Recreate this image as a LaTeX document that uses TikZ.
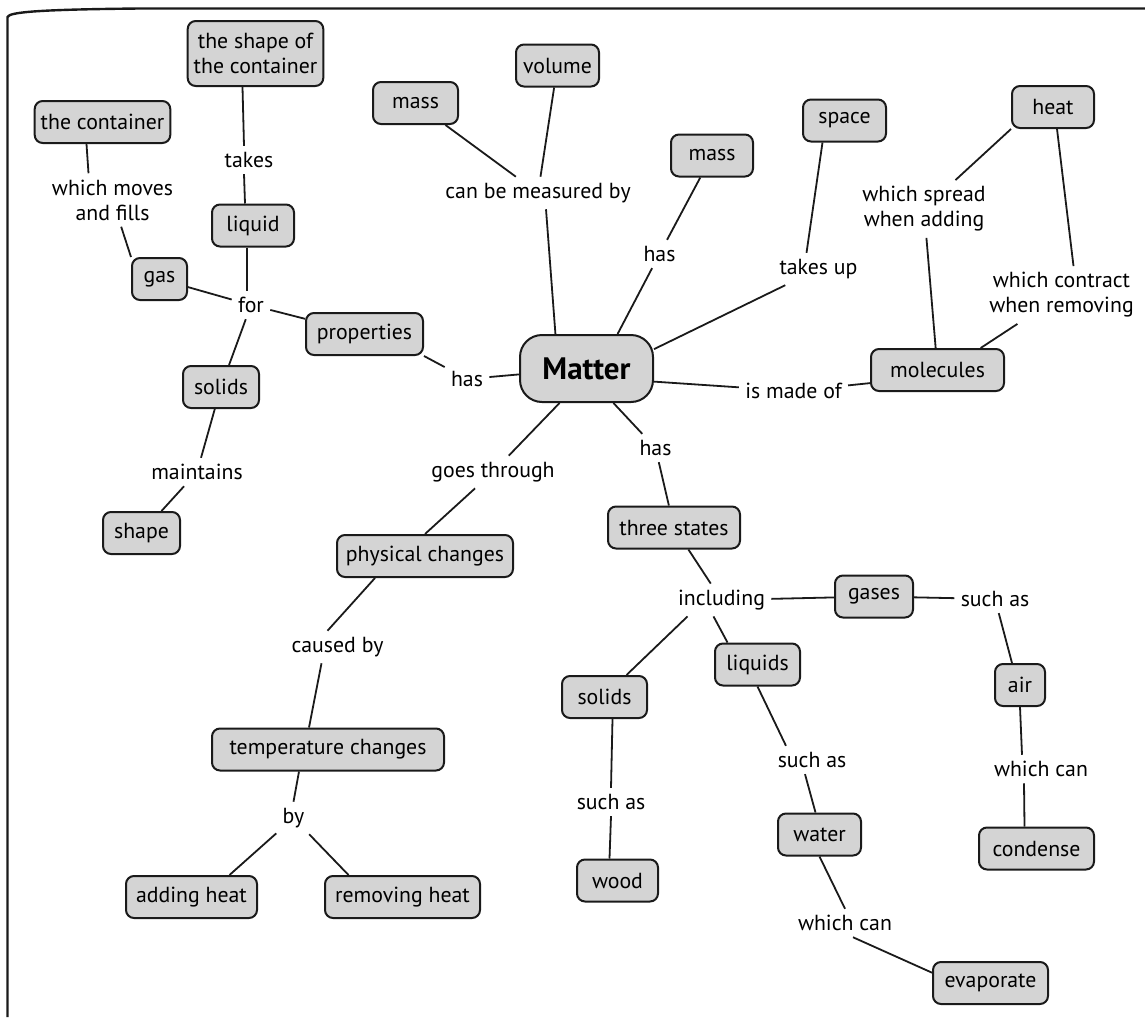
\documentclass[tikz,border=0pt]{standalone}
\usepackage{fontspec}
\setmainfont{PT Sans}
\definecolor{cmFill}{HTML}{D4D4D4}
\definecolor{cmLine}{HTML}{1A1A1A}

\begin{document}
\begin{tikzpicture}[
    x=0.5pt, y=-0.5pt,
    every node/.style={font=\fontsize{10.9}{12.5}\selectfont, text=black},
    concept/.style={draw=cmLine, fill=cmFill, line width=1pt, rounded corners=4pt,
                    inner xsep=3pt, inner ysep=2pt, minimum height=21pt, align=center},
    hub/.style={concept, rounded corners=11pt, minimum width=66.5pt, minimum height=33.5pt,
                font=\fontsize{15.5}{18}\selectfont\bfseries},
    phrase/.style={inner sep=3pt, align=center},
    link/.style={line width=0.9pt, draw=cmLine},
    frame/.style={line width=1.2pt, draw=cmLine}
]
\useasboundingbox (0,0) rectangle (1145,1017);

% ============================
% Page frame
% ============================
\draw[frame] (7.5,1017) -- (7.5,17) .. controls (9,12) and (40,9.5) .. (140,8.5) -- (1145,8.5);

% ============================
% Concepts
% ============================
\node[hub] (matter) at (586.5,368.5) {Matter};

% top left
\node[concept, minimum width=67.5pt, minimum height=32.5pt] (shapecont) at (255.5,53.5) {the shape of\\the container};
\node[concept, minimum width=66.5pt] (container) at (102.5,122) {the container};
\node[concept, minimum width=41pt] (liquid) at (253,225.5) {liquid};
\node[concept, minimum width=27.5pt] (gas) at (159.5,279) {gas};
\node[concept, minimum width=58.5pt] (properties) at (364.5,334) {properties};
\node[concept, minimum width=38pt] (solidsL) at (221,387) {solids};
\node[concept, minimum width=38.5pt] (shape) at (141.5,533) {shape};

% top
\node[concept, minimum width=42.5pt] (massA) at (415.5,103) {mass};
\node[concept, minimum width=41.5pt] (volume) at (557.5,65.5) {volume};
\node[concept, minimum width=41pt] (massB) at (712,155.5) {mass};
\node[concept, minimum width=41.5pt] (space) at (844.5,120.5) {space};
\node[concept, minimum width=41pt] (heat) at (1053,107) {heat};
\node[concept, minimum width=66.5pt] (molecules) at (937.5,370) {molecules};

% bottom left
\node[concept, minimum width=88pt] (physchanges) at (425,556) {physical changes};
\node[concept, minimum width=116pt] (tempchanges) at (328,749.5) {temperature changes};
\node[concept, minimum width=65.5pt] (addheat) at (191.5,897) {adding heat};
\node[concept, minimum width=77.5pt] (removeheat) at (402.5,897) {removing heat};

% bottom right
\node[concept, minimum width=66pt] (threestates) at (674,527.5) {three states};
\node[concept, minimum width=39pt] (gases) at (874,596.5) {gases};
\node[concept, minimum width=42.5pt] (solidsR) at (604.5,697) {solids};
\node[concept, minimum width=42.5pt] (liquids) at (757.5,664.5) {liquids};
\node[concept, minimum width=25pt] (air) at (1020,685) {air};
\node[concept, minimum width=40.5pt] (wood) at (617.5,880.5) {wood};
\node[concept, minimum width=41.5pt] (water) at (819.5,834.5) {water};
\node[concept, minimum width=57.5pt] (condense) at (1036.5,848.5) {condense};
\node[concept, minimum width=57.5pt] (evaporate) at (990.5,983) {evaporate};

% ============================
% Linking phrases
% ============================
\node[phrase] (takes) at (249,160) {takes};
\node[phrase] (whichmoves) at (112.5,200) {which moves\\and fills};
\node[phrase] (forL) at (251,305) {for};
\node[phrase] (maintains) at (197,472) {maintains};
\node[phrase] (canbe) at (538,193) {can be measured by};
\node[phrase] (hasU) at (659.5,254) {has};
\node[phrase] (takesup) at (818.5,269) {takes up};
\node[phrase] (spread) at (924,209) {which spread\\when adding};
\node[phrase] (contract) at (1061.5,295) {which contract\\when removing};
\node[phrase] (hasL) at (467,379) {has};
\node[phrase] (madeof) at (793.5,391) {is made of};
\node[phrase] (goes) at (493,472) {goes through};
\node[phrase] (hasB) at (655.5,448) {has};
\node[phrase] (causedby) at (337.5,647) {caused by};
\node[phrase] (by) at (293.5,818) {by};
\node[phrase] (including) at (721.5,600) {including};
\node[phrase] (suchasG) at (995,599) {such as};
\node[phrase] (whichcanU) at (1041,769) {which can};
\node[phrase] (suchasS) at (611,802) {such as};
\node[phrase] (suchasL) at (812,760) {such as};
\node[phrase] (whichcanL) at (845,923) {which can};

% ============================
% Connectors
% ============================
% measured / has / takes up
\draw[link] (massA) -- (canbe);
\draw[link] (volume) -- (canbe);
\draw[link] ([xshift=4pt]canbe.south) -- (matter.132);
\draw[link] (massB) -- (hasU);
\draw[link] (hasU) -- (matter.48);
\draw[link] ([xshift=-11pt]space.south) -- ([xshift=-6pt]takesup.north);
\draw[link] (takesup) -- (matter.16);

% molecules and heat
\draw[link] (heat.south west) -- (spread);
\draw[link] (spread) -- (molecules);
\draw[link] ([xshift=2pt]heat.south) -- ([xshift=6pt]contract.north);
\draw[link] (contract) -- (molecules.27);
\draw[link] (matter.-11) -- (madeof);
\draw[link] (madeof) -- (molecules.191);

% properties branch
\draw[link] (matter.185) -- (hasL);
\draw[link] (hasL) -- (properties.south east);
\draw[link] (forL) -- (properties);
\draw[link] (gas) -- (forL);
\draw[link] ([xshift=-3pt]liquid.south) -- ([xshift=-2pt]forL.north);
\draw[link] (forL) -- (solidsL);
\draw[link] (solidsL) -- (maintains);
\draw[link] (maintains) -- (shape);
\draw[link] ([xshift=-4pt]liquid.north) -- ([xshift=-2.5pt]takes.south);
\draw[link] ([xshift=-2.5pt]takes.north) -- ([xshift=-6.5pt]shapecont.south);
\draw[link] ([xshift=-8pt]container.south) -- ([xshift=-12pt]whichmoves.north);
\draw[link] (whichmoves) -- (gas.north west);

% physical changes branch
\draw[link] (matter.232) -- (goes);
\draw[link] (goes) -- (physchanges.north);
\draw[link] ([xshift=-25pt]physchanges.south) -- ([xshift=-5pt]causedby.north);
\draw[link] ([xshift=-8pt]causedby.south) -- ([xshift=-9.5pt]tempchanges.north);
\draw[link] ([xshift=-14.5pt]tempchanges.south) -- (by.north);
\draw[link] (by) -- ([xshift=19pt]addheat.north);
\draw[link] (by) -- ([xshift=-27pt]removeheat.north);

% three states branch
\draw[link] (matter.-52) -- (hasB);
\draw[link] (hasB) -- (threestates);
\draw[link] (threestates) -- (including);
\draw[link] (including) -- (gases);
\draw[link] (gases) -- (suchasG);
\draw[link] (suchasG) -- ([xshift=-4pt]air.north);
\draw[link] (air.south) -- ([xshift=-9.5pt]whichcanU.north);
\draw[link] ([xshift=-8.5pt]whichcanU.south) -- ([xshift=-6pt]condense.north);
\draw[link] ([xshift=-17pt]including.south) -- ([xshift=11pt]solidsR.north);
\draw[link] ([xshift=-4pt]including.south) -- ([xshift=-15pt]liquids.north);
\draw[link] ([xshift=4pt]solidsR.south) -- (suchasS.north);
\draw[link] (suchasS.south) -- ([xshift=-4pt]wood.north);
\draw[link] (liquids.south) -- ([xshift=-13pt]suchasL.north);
\draw[link] ([xshift=-3.5pt]suchasL.south) -- ([xshift=-2pt]water.north);
\draw[link] (water.south) -- (whichcanL.north);
\draw[link] ([xshift=4pt]whichcanL.south) -- (evaporate.170);

\end{tikzpicture}
\end{document}
